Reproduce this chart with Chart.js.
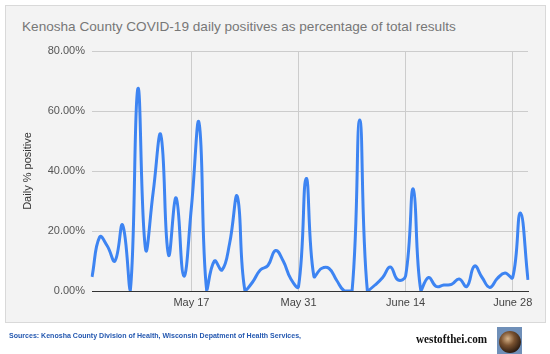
<!DOCTYPE html>
<html>
<head>
<meta charset="utf-8">
<script src="https://cdn.jsdelivr.net/npm/chart.js@4/dist/chart.umd.min.js"></script>
<style>
  html, body { margin: 0; padding: 0; background: #ffffff; width: 550px; height: 354px; overflow: hidden; }
  #box { position: absolute; left: 5px; top: 5px; width: 539px; height: 316px; background: #f3f3f3; border: 1px solid #d9d9d9; }
  #title { position: absolute; left: 22px; top: 19px; font-family: "Liberation Sans", Arial, sans-serif; font-size: 13.6px; line-height: 16px; color: #777777; white-space: nowrap; }
  #chart { position: absolute; left: 0; top: 0; }
  #source { position: absolute; left: 9px; top: 331px; font-family: "Liberation Sans", Arial, sans-serif; font-weight: bold; font-size: 7.05px; line-height: 9px; color: #2458b0; white-space: nowrap; }
  #brand { position: absolute; left: 416px; top: 331px; font-family: "Liberation Serif", "Times New Roman", serif; font-weight: bold; font-size: 13px; line-height: 15px; color: #111; white-space: nowrap; transform-origin: left center; transform: scaleX(0.86); }
  #logo { position: absolute; left: 497px; top: 327px; width: 25px; height: 27px; background: #6f8fb8; overflow: hidden; }
  #logo div { position: absolute; left: 2px; top: 4px; width: 22px; height: 22px; border-radius: 50%; background: radial-gradient(circle at 40% 35%, #d8b48a 0%, #7a5230 35%, #2a1a10 75%); }
</style>
</head>
<body>
<div id="box"></div>
<div id="title">Kenosha County COVID-19 daily positives as percentage of total results</div>
<canvas id="chart" width="550" height="354"></canvas>
<div id="source">Sources: Kenosha County Division of Health, Wisconsin Depatment of Health Services,</div>
<div id="brand">westofthei.com</div>
<div id="logo"><div></div></div>
<script>
const dates = [
  "May 4","May 5","May 6","May 7","May 8","May 9","May 10","May 11","May 12","May 13",
  "May 14","May 15","May 16","May 17","May 18","May 19","May 20","May 21","May 22","May 23",
  "May 24","May 25","May 26","May 27","May 28","May 29","May 30","May 31",
  "June 1","June 2","June 3","June 4","June 5","June 6","June 7","June 8","June 9","June 10",
  "June 11","June 12","June 13","June 14","June 15","June 16","June 17","June 18","June 19","June 20",
  "June 21","June 22","June 23","June 24","June 25","June 26","June 27","June 28","June 29","June 30"
];
const dailyPositivePct = [
  4.7, 18, 15, 10, 22, 0, 67.5, 14, 33, 52,
  12, 31, 5, 28, 56, 0, 10, 7, 16, 31.5,
  0, 3, 7, 8.5, 13.5, 10, 4, 1.5,
  37.5, 5, 7.5, 7.5, 3.5, 0, 0, 57, 0, 2,
  4.5, 8, 3.7, 5, 34, 0, 4.5, 1.5, 2, 2.2,
  4, 1.5, 8.3, 4.5, 1.2, 4.2, 6, 4.5, 26, 3.7
];
const xTickLabels = ["May 17", "May 31", "June 14", "June 28"];
const yTicks = [0, 20, 40, 60, 80];

new Chart(document.getElementById('chart'), {
  type: 'line',
  data: {
    labels: dates,
    datasets: [{
      data: dailyPositivePct,
      borderColor: '#3d84f2',
      borderWidth: 3,
      pointRadius: 0,
      tension: 0.45,
      fill: false
    }]
  },
  options: {
    responsive: false,
    animation: false,
    devicePixelRatio: 1,
    layout: { padding: { left: 17, top: 51, right: 22, bottom: 38 } },
    plugins: { legend: { display: false }, tooltip: { enabled: false }, title: { display: false } },
    scales: {
      x: {
        type: 'category',
        offset: false,
        afterFit: s => { s.height = 25; },
        grid: {
          drawTicks: false,
          color: ctx => (ctx.tick && xTickLabels.includes(dates[ctx.index])) ? '#cccccc' : 'rgba(0,0,0,0)',
          lineWidth: 1
        },
        border: { display: true, color: '#333333', width: 1 },
        ticks: {
          autoSkip: false,
          maxRotation: 0,
          padding: 5,
          color: '#444444',
          font: { family: '"Liberation Sans", Arial, sans-serif', size: 11 },
          callback: function(v, i) { return xTickLabels.includes(dates[i]) ? dates[i] : ''; }
        }
      },
      y: {
        min: yTicks[0],
        max: yTicks[yTicks.length - 1],
        afterFit: s => { s.width = 75; },
        afterBuildTicks: s => { s.ticks = yTicks.map(v => ({ value: v })); },
        grid: { drawTicks: false, color: '#cccccc', lineWidth: 1 },
        border: { display: false },
        title: {
          display: true,
          text: 'Daily % positive',
          color: '#333333',
          padding: { top: 4, bottom: 4 },
          font: { family: '"Liberation Sans", Arial, sans-serif', size: 11 }
        },
        ticks: {
          padding: 7,
          color: '#555555',
          font: { family: '"Liberation Sans", Arial, sans-serif', size: 11 },
          callback: v => v.toFixed(2) + '%'
        }
      }
    }
  }
});
</script>
</body>
</html>
